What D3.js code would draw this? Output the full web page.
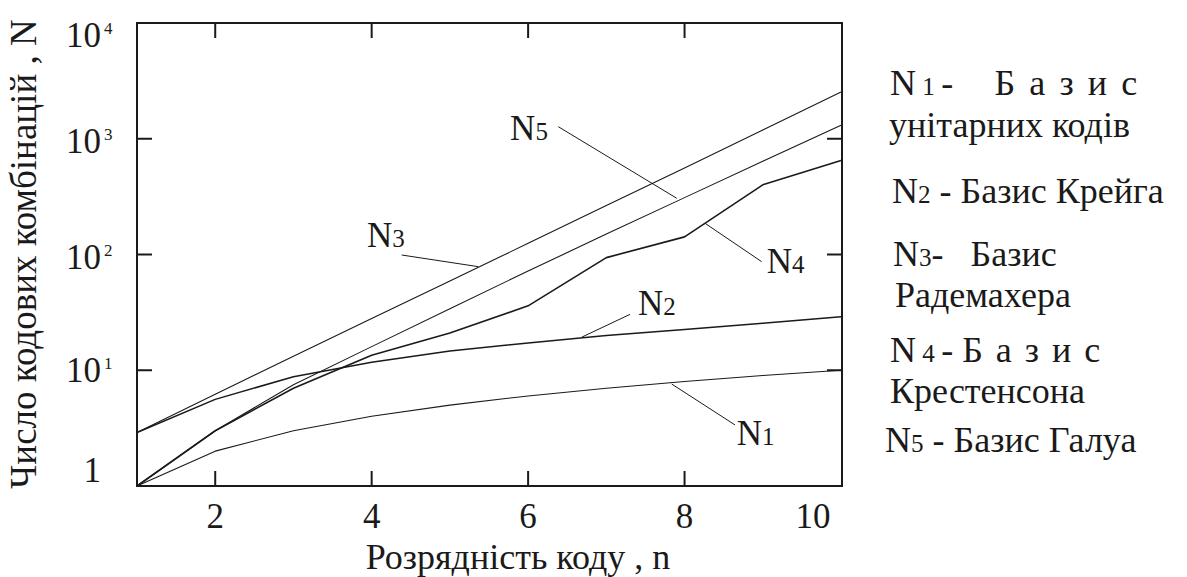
<!DOCTYPE html>
<html>
<head>
<meta charset="utf-8">
<script src="https://cdn.jsdelivr.net/npm/d3@7"></script>
<style>
  html, body { margin: 0; padding: 0; background: #fff; }
  svg { display: block; }
  text { font-family: "Liberation Serif", "Times New Roman", serif; fill: #1a1a1a; white-space: pre; }
</style>
</head>
<body>
<svg id="chart" width="1187" height="577"></svg>
<script>
// ---- data ----
const nValues = [1, 2, 3, 4, 5, 6, 7, 8, 9, 10];
const seriesN1 = [1, 2, 3, 4, 5, 6, 7, 8, 9, 10];
const seriesN2 = [2.9, 5.6, 8.8, 11.7, 14.7, 17.2, 20, 22.5, 25.5, 29];
const seriesN3 = [2.9, 6.2, 13.2, 28, 59, 125, 265, 560, 1190, 2530];
const seriesN4 = [1, 3, 7, 13.5, 21, 36, 94, 142, 400, 650];
const seriesN5 = [1, 3, 7.5, 16, 34, 72, 150, 310, 640, 1310];
const xTicks = [2, 4, 6, 8, 10];
const yTicks = [1, 10, 100, 1000, 10000];
const yTickExp = ["", "1", "2", "3", "4"];
const xTitle = "Розрядність коду , n";
const yTitle = "Число кодових комбінацій , N";
// legend rows: [text, relative size, letter-spacing]
const legendLines = [
  [["N", 1, 0], [" 1 ", 0.7, 0], ["-  ", 1, 0], ["  Б а з и с", 1, 2.6]],
  [["унітарних кодів", 1, 0]],
  [["N", 1, 0], ["2", 0.7, 0], [" - Базис Крейга", 1, 0]],
  [["N", 1, 0], ["3", 0.7, 0], ["-   Базис", 1, 0]],
  [["Радемахера", 1, 0]],
  [["N", 1, 0], [" 4 ", 0.7, 0], ["- ", 1, 0], ["Б а з и с", 1, 2]],
  [["Крестенсона", 1, 0]],
  [["N", 1, 0], ["5", 0.7, 0], [" - Базис Галуа", 1, 0]]
];
// curve labels: name, digit, text anchor (n, N), leader from (n, N) to (n, N)
const curveLabels = [
  { name: "N", sub: "1", at: [8.667, 2.26], from: [8.645, 3.37], to: [7.836, 7.6] },
  { name: "N", sub: "2", at: [7.405, 30], from: [7.303, 30.4], to: [6.685, 19.3] },
  { name: "N", sub: "3", at: [3.94, 116], from: [4.384, 99], to: [5.363, 78.5] },
  { name: "N", sub: "4", at: [9.05, 69.2], from: [8.986, 86.7], to: [8.262, 186] },
  { name: "N", sub: "5", at: [5.77, 975], from: [6.386, 1271], to: [7.90, 306] }
];

// ---- layout ----
const svg = d3.select("#chart");
const pLeft = 137, pRight = 842, pTop = 23, pBottom = 486;
const x = d3.scaleLinear().domain([1, 10]).range([pLeft, pRight - 1]);
const y = d3.scaleLog().domain([1, 10000]).range([pBottom, pTop]);
const ink = "#1a1a1a";

// curves
const line = d3.line().x((d, i) => x(nValues[i])).y(d => y(d));
const series = [
  { v: seriesN1, w: 1.1 },
  { v: seriesN2, w: 1.5 },
  { v: seriesN3, w: 1.1 },
  { v: seriesN4, w: 1.6 },
  { v: seriesN5, w: 1.1 }
];
svg.append("g").selectAll("path").data(series).join("path")
  .attr("d", d => line(d.v))
  .attr("fill", "none")
  .attr("stroke", ink)
  .attr("stroke-width", d => d.w)
  .attr("stroke-linejoin", "round");

// frame
svg.append("rect")
  .attr("x", pLeft).attr("y", pTop)
  .attr("width", pRight - pLeft).attr("height", pBottom - pTop)
  .attr("fill", "none").attr("stroke", ink).attr("stroke-width", 2);

// ticks (inward on all sides)
const tl = 15;
const gT = svg.append("g").attr("stroke", ink).attr("stroke-width", 2);
xTicks.filter(t => t < 10).forEach(t => {
  gT.append("line").attr("x1", x(t)).attr("x2", x(t)).attr("y1", pBottom).attr("y2", pBottom - tl);
  gT.append("line").attr("x1", x(t)).attr("x2", x(t)).attr("y1", pTop).attr("y2", pTop + tl);
});
yTicks.filter(t => t > 1 && t < 10000).forEach(t => {
  gT.append("line").attr("x1", pLeft).attr("x2", pLeft + tl).attr("y1", y(t)).attr("y2", y(t));
  gT.append("line").attr("x1", pRight).attr("x2", pRight - tl).attr("y1", y(t)).attr("y2", y(t));
});

// x tick labels
svg.append("g").selectAll("text").data(xTicks).join("text")
  .attr("x", d => x(d) + (d === 10 ? -28 : 0))
  .attr("y", 528)
  .attr("text-anchor", "middle")
  .attr("font-size", 35)
  .text(d => d);

// y tick labels
const yLabelShift = [-16, 0, 2, 2, 12];
yTicks.forEach((t, i) => {
  const cy = y(t) + yLabelShift[i];
  if (t === 1) {
    svg.append("text").attr("x", 101).attr("y", cy + 12)
      .attr("text-anchor", "end").attr("font-size", 35).text("1");
  } else {
    svg.append("text").attr("x", 101).attr("y", cy + 12)
      .attr("text-anchor", "end").attr("font-size", 35).text("10");
    svg.append("text").attr("x", 104).attr("y", cy - 1)
      .attr("font-size", 17).text(yTickExp[i]);
  }
});

// axis titles
svg.append("text")
  .attr("x", 518).attr("y", 569)
  .attr("text-anchor", "middle")
  .attr("font-size", 36)
  .text(xTitle);
svg.append("text")
  .attr("transform", "translate(36,254) rotate(-90)")
  .attr("text-anchor", "middle")
  .attr("font-size", 37)
  .text(yTitle);

// curve labels and leaders
const gL = svg.append("g");
curveLabels.forEach(c => {
  gL.append("line")
    .attr("x1", x(c.from[0])).attr("y1", y(c.from[1]))
    .attr("x2", x(c.to[0])).attr("y2", y(c.to[1]))
    .attr("stroke", ink).attr("stroke-width", 1);
  const t = gL.append("text").attr("x", x(c.at[0])).attr("y", y(c.at[1])).attr("font-size", 35);
  t.append("tspan").text(c.name);
  t.append("tspan").attr("font-size", 25).text(c.sub);
});

// legend
const legendBaselines = [95, 137, 203, 266, 307, 362, 403, 452];
const legendX = [890, 889, 892, 893, 895, 890, 890, 885];
legendLines.forEach((parts, i) => {
  const t = svg.append("text").attr("x", legendX[i]).attr("y", legendBaselines[i]).attr("font-size", 36);
  parts.forEach(p => {
    t.append("tspan").attr("font-size", 36 * p[1]).attr("letter-spacing", p[2]).text(p[0]);
  });
});
</script>
</body>
</html>
